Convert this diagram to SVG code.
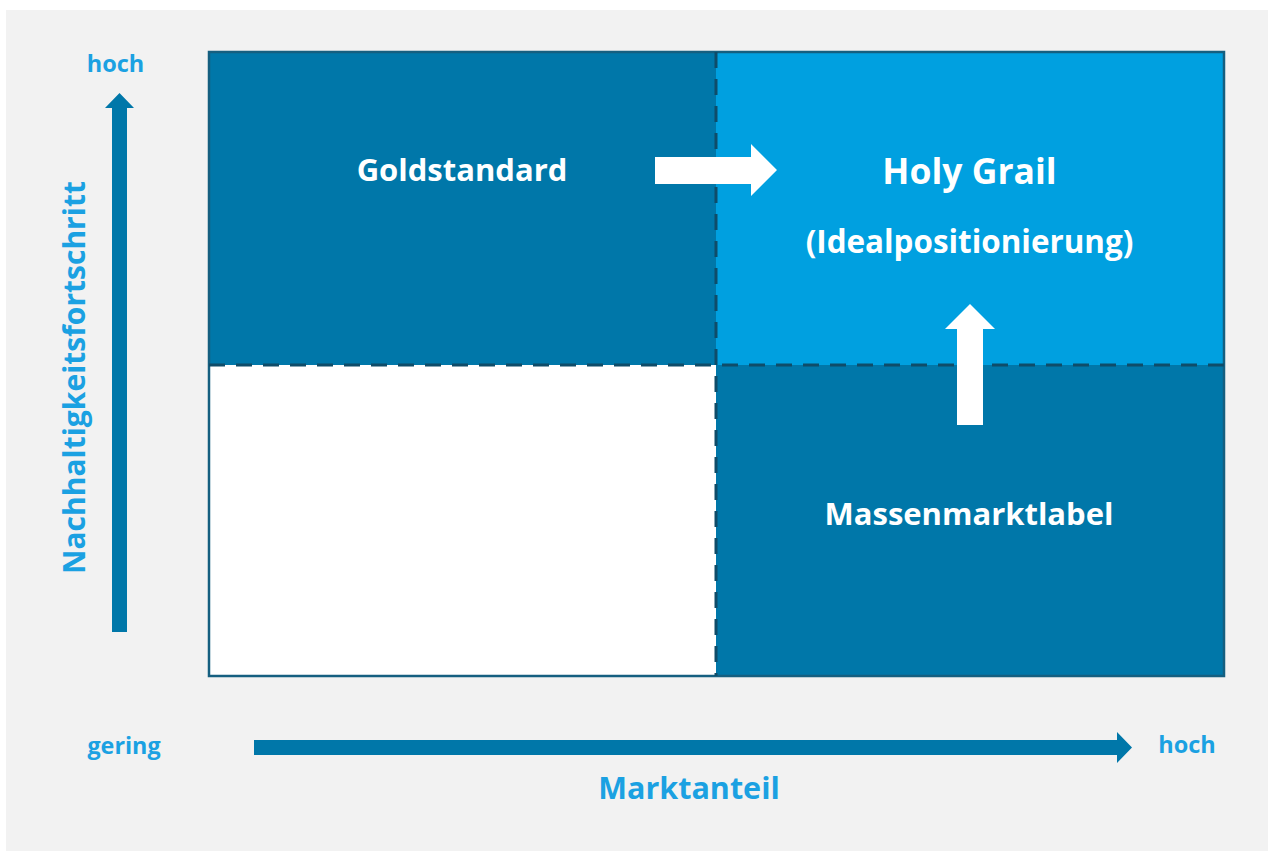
<svg xmlns="http://www.w3.org/2000/svg" width="1274" height="851" viewBox="0 0 1274 851">
<style>
.lbl{font-family:"Open Sans","Liberation Sans",sans-serif;font-weight:bold;fill:#ffffff;text-anchor:middle}
.ax{font-family:"Open Sans","Liberation Sans",sans-serif;font-weight:bold;fill:#1ba1e2;text-anchor:middle}
.dash{stroke:#0f4c69;stroke-width:3;stroke-dasharray:16 11;fill:none}
</style>
<rect x="0" y="0" width="1274" height="851" fill="#ffffff"/>
<rect x="6" y="10" width="1262" height="841" fill="#f2f2f2"/>
<g id="quadrants">
<rect id="q-goldstandard" x="209" y="52" width="507" height="313" fill="#0077a9"/>
<rect id="q-holygrail" x="716" y="52" width="508" height="313" fill="#00a0e0"/>
<rect id="q-empty" x="209" y="365" width="507" height="311" fill="#ffffff"/>
<rect id="q-massenmarkt" x="716" y="365" width="508" height="311" fill="#0077a9"/>
<rect x="209" y="52" width="1015" height="624" fill="none" stroke="#155f80" stroke-width="2.5"/>
<line class="dash" x1="209" y1="365" x2="1224" y2="365"/>
<line class="dash" x1="716" y1="52" x2="716" y2="676"/>
</g>
<g id="connectors">
<polygon id="arrow-right" points="655,157 751,157 751,144 777,170 751,196 751,184 655,184" fill="#ffffff"/>
<polygon id="arrow-up" points="957,425 957,329 945,329 970,304 995,329 983,329 983,425" fill="#ffffff"/>
<polygon id="axis-y" points="112,632 112,108 105,108 119.5,93 134,108 127,108 127,632" fill="#0077a9"/>
<polygon id="axis-x" points="254,740 1117,740 1117,732 1132,747.5 1117,763 1117,755 254,755" fill="#0077a9"/>
</g>
<g id="n-goldstandard"><text class="lbl" x="462" y="181" font-size="31">Goldstandard</text></g>
<g id="n-holygrail">
<text class="lbl" x="969.5" y="184" font-size="35.5">Holy Grail</text>
<text class="lbl" x="969.5" y="253" font-size="31.4">(Idealpositionierung)</text>
</g>
<g id="n-massenmarkt"><text class="lbl" x="969" y="525" font-size="31">Massenmarktlabel</text></g>
<g id="axis-labels">
<text class="ax" x="115.5" y="72" font-size="23.5">hoch</text>
<text class="ax" x="124" y="754" font-size="23.3">gering</text>
<text class="ax" x="1187" y="753" font-size="23.5">hoch</text>
<text class="ax" x="689" y="799" font-size="30.5">Marktanteil</text>
<text class="ax" transform="translate(85,377.5) rotate(-90)" x="0" y="0" font-size="30">Nachhaltigkeitsfortschritt</text>
</g>
</svg>
